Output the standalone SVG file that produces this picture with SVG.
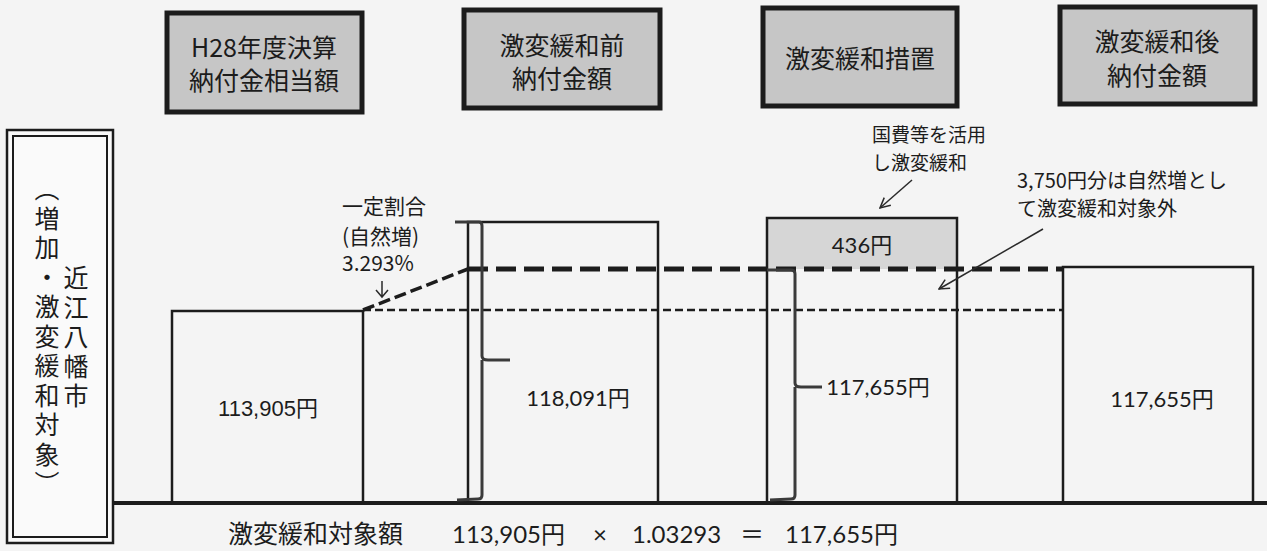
<svg xmlns="http://www.w3.org/2000/svg" width="1267" height="551" viewBox="0 0 1267 551">
<defs>
<style>
.hdr{fill:#c6c6c6;stroke:#1c1c1c;stroke-width:5}
.ht{font-family:"Noto Sans CJK JP","Noto Sans CJK SC",sans-serif;font-size:25px;fill:#1c1c1c;text-anchor:middle}
.bar{fill:none;stroke:#1c1c1c;stroke-width:2.5}
.jp{font-family:"Noto Sans CJK JP","Noto Sans CJK SC",sans-serif;fill:#1c1c1c}
.num{font-family:Lato,"Noto Sans CJK JP",sans-serif;fill:#1c1c1c}
.vt{font-family:"Noto Sans CJK JP","Noto Sans CJK SC",sans-serif;font-size:25px;fill:#1c1c1c;writing-mode:vertical-rl;letter-spacing:4.5px}
.brace{fill:none;stroke:#3a3a3a;stroke-width:3}
.ann{fill:none;stroke:#2a2a2a;stroke-width:1.5}
</style>
<marker id="open" viewBox="0 0 12 12" refX="11" refY="6" markerWidth="12" markerHeight="12" markerUnits="userSpaceOnUse" orient="auto"><path d="M1,1 L11,6 L1,11" fill="none" stroke="#2a2a2a" stroke-width="1.5"/></marker>
</defs>
<rect width="1267" height="551" fill="#f4f4f4"/>

<g id="side-label">
<rect x="7" y="130" width="106" height="413" fill="#fafafa" stroke="#1c1c1c" stroke-width="2.5"/>
<rect x="13" y="136" width="94" height="401" fill="none" stroke="#1c1c1c" stroke-width="2"/>
<text class="vt" x="47" y="176">（増加・激変緩和対象）</text>
<text class="vt" x="76" y="265">近江八幡市</text>
</g>

<g id="hdr-h28">
<rect class="hdr" x="167" y="13" width="195" height="99"/>
<text class="ht" x="264" y="57">H28年度決算</text>
<text class="ht" x="264" y="90">納付金相当額</text>
</g>
<g id="hdr-before">
<rect class="hdr" x="464" y="10" width="196" height="98"/>
<text class="ht" x="562" y="55">激変緩和前</text>
<text class="ht" x="562" y="88">納付金額</text>
</g>
<g id="hdr-measure">
<rect class="hdr" x="763" y="8" width="194" height="98"/>
<text class="ht" x="860" y="68">激変緩和措置</text>
</g>
<g id="hdr-after">
<rect class="hdr" x="1060" y="7" width="195" height="97"/>
<text class="ht" x="1157" y="51">激変緩和後</text>
<text class="ht" x="1157" y="85">納付金額</text>
</g>

<g id="bar-h28">
<rect class="bar" x="172" y="311" width="191" height="192"/>
<text x="268" y="416" font-family="'Liberation Sans','Noto Sans CJK JP',sans-serif" font-size="22" fill="#1c1c1c" text-anchor="middle">113,905円</text>
</g>
<g id="bar-before">
<path class="bar" d="M468,503 V222 H658 V503"/>
<text class="num" x="578" y="406" font-size="22" text-anchor="middle">118,091円</text>
</g>
<g id="bar-measure">
<rect x="767" y="218" width="190" height="51" fill="#d6d6d6"/>
<path class="bar" d="M767,503 V218 H957 V503"/>
<text class="num" x="862" y="253" font-size="22" text-anchor="middle">436円</text>
<text class="num" x="878" y="395" font-size="22" text-anchor="middle">117,655円</text>
</g>
<g id="bar-after">
<path class="bar" d="M1063,503 V267 H1253 V503"/>
<text class="num" x="1162" y="407" font-size="22" text-anchor="middle">117,655円</text>
</g>

<g id="note-rate">
<text class="jp" x="342" y="214" font-size="21">一定割合</text>
<text class="jp" x="342" y="244" font-size="21">(自然増)</text>
<text class="jp" x="342" y="271" font-size="21">3.293%</text>
</g>
<g id="note-national">
<text class="jp" x="872" y="142" font-size="19">国費等を活用</text>
<text class="jp" x="872" y="170" font-size="19">し激変緩和</text>
</g>
<g id="note-natural">
<text class="jp" x="1017" y="188" font-size="20">3,750円分は自然増とし</text>
<text class="jp" x="1017" y="216" font-size="20">て激変緩和対象外</text>
</g>

<g id="connectors">
<line x1="113" y1="503" x2="1267" y2="503" stroke="#1c1c1c" stroke-width="4"/>
<path d="M363,310 H1063" fill="none" stroke="#1c1c1c" stroke-width="2.5" stroke-dasharray="8 4"/>
<path d="M363,310 L468,269" fill="none" stroke="#1c1c1c" stroke-width="3.5" stroke-dasharray="12 5"/>
<path d="M468,269 H1063" fill="none" stroke="#1c1c1c" stroke-width="5" stroke-dasharray="20 8"/>
<path class="brace" d="M455,222 H479 Q482,222 482,226 V356 Q482,360 488,360 H510 M482,360 V495 Q482,499 478,499 L457,500"/>
<path class="brace" d="M767,270 H791 Q795,270 795,274 V383 Q795,387 801,387 H822 M795,387 V495 Q795,499 791,499 L770,500"/>
<path class="ann" d="M382,281 V297 M376,290 L382,297 L388,290"/>
<path class="ann" d="M912,180 L880,208" marker-end="url(#open)"/>
<path class="ann" d="M1043,229 L939,289" marker-end="url(#open)"/>
</g>

<g id="formula">
<text class="jp" x="228" y="543" font-size="25">激変緩和対象額</text>
<text class="num" x="452" y="543" font-size="24">113,905円</text>
<text class="num" x="600" y="543" font-size="24" text-anchor="middle">×</text>
<text class="num" x="632" y="543" font-size="24">1.03293</text>
<text class="num" x="752" y="543" font-size="24" text-anchor="middle">＝</text>
<text class="num" x="785" y="543" font-size="24">117,655円</text>
</g>
</svg>
